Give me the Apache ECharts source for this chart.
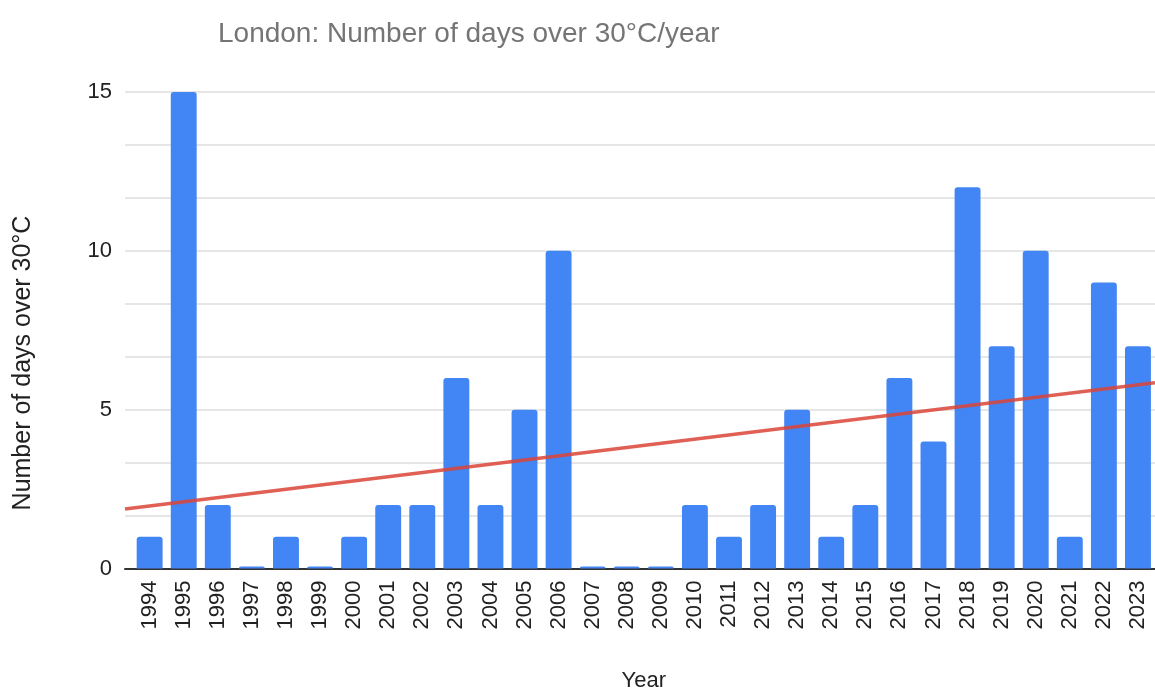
<!DOCTYPE html>
<html>
<head>
<meta charset="utf-8">
<title>London: Number of days over 30°C/year</title>
<script src="https://cdn.jsdelivr.net/npm/echarts@6/dist/echarts.min.js"></script>
<style>
  html, body { margin: 0; padding: 0; background: #fff; }
  #chart { width: 1155px; height: 693px; }
</style>
</head>
<body>
<div id="chart"></div>
<script>
// values
const years = ['1994', '1995', '1996', '1997', '1998', '1999', '2000', '2001', '2002', '2003',
  '2004', '2005', '2006', '2007', '2008', '2009', '2010', '2011', '2012', '2013',
  '2014', '2015', '2016', '2017', '2018', '2019', '2020', '2021', '2022', '2023'];
const daysOver30 = [1, 15, 2, 0, 1, 0, 1, 2, 2, 6,
  2, 5, 10, 0, 0, 0, 2, 1, 2, 5,
  1, 2, 6, 4, 12, 7, 10, 1, 9, 7];
// trendline value at the left and right edge of the plot
const trendStart = 1.87;
const trendEnd = 5.85;

const titleText = 'London: Number of days over 30°C/year';
const yName = 'Number of days over 30°C';
const xName = 'Year';

const font = '"Liberation Sans", Arial, Helvetica, sans-serif';

const chart = echarts.init(document.getElementById('chart'));

chart.setOption({
  animation: false,
  backgroundColor: '#fff',
  textStyle: { fontFamily: font },
  title: {
    text: titleText,
    left: 213,
    top: 15,
    textStyle: { color: '#757575', fontSize: 28, fontWeight: 'normal', fontFamily: font }
  },
  graphic: [{
    type: 'text',
    x: 23,
    y: 363,
    rotation: Math.PI / 2,
    style: {
      text: yName,
      fill: '#222',
      font: '25px ' + font,
      textAlign: 'center',
      textVerticalAlign: 'middle'
    }
  }],
  grid: [
    // gridlines, baseline, trendline
    { left: 125, right: 0, top: 92, bottom: 124.5, outerBoundsMode: 'none', containLabel: false },
    // bars
    { left: 132.6, right: 0, top: 92, bottom: 124.5, outerBoundsMode: 'none', containLabel: false }
  ],
  xAxis: [
    {
      type: 'value', gridIndex: 0, min: 0, max: 1,
      axisLine: { show: true, lineStyle: { color: '#333', width: 2 } },
      axisTick: { show: false }, axisLabel: { show: false }, splitLine: { show: false }
    },
    {
      type: 'category', gridIndex: 1, data: years,
      axisLine: { show: false }, axisTick: { show: false },
      axisLabel: { rotate: 90, margin: 12, fontSize: 22, color: '#222', interval: 0 },
      name: xName, nameLocation: 'middle', nameGap: 101,
      nameTextStyle: { fontSize: 22, color: '#222' }
    }
  ],
  yAxis: [
    {
      type: 'value', gridIndex: 0, min: 0, max: 15, interval: 5,
      axisLine: { show: false }, axisTick: { show: false },
      axisLabel: { fontSize: 22, color: '#222', margin: 13 },
      splitLine: { lineStyle: { color: '#dedede', width: 1.5 } },
      minorTick: { show: false, splitNumber: 3 },
      minorSplitLine: { show: true, lineStyle: { color: '#dedede', width: 1.5 } }
    },
    {
      type: 'value', gridIndex: 1, min: 0, max: 15, show: false
    }
  ],
  series: [
    {
      type: 'bar', xAxisIndex: 1, yAxisIndex: 1,
      data: daysOver30,
      barCategoryGap: '24%',
      barMinHeight: 2,
      itemStyle: { color: '#4285f4', borderRadius: [3, 3, 0, 0] },
      z: 3
    },
    {
      type: 'line', xAxisIndex: 0, yAxisIndex: 0,
      data: [[0, trendStart], [1, trendEnd]],
      showSymbol: false,
      lineStyle: { color: '#db4437', width: 3.5, opacity: 0.85 },
      z: 5
    }
  ]
});

window.addEventListener('resize', () => chart.resize());
</script>
</body>
</html>
